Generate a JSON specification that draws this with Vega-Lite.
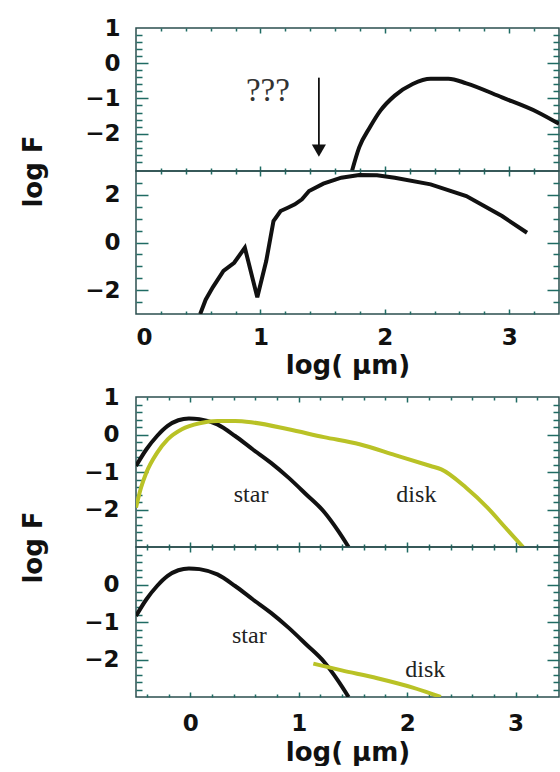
{
  "$schema": "https://vega.github.io/schema/vega-lite/v6.json",
  "padding": {"left": 19, "top": 16, "right": 0, "bottom": 0},
  "config": {
    "view": {"stroke": "#2b4f4f", "strokeWidth": 1.5},
    "axis": {"domain": false, "grid": false, "labelFont": "DejaVu Sans", "labelFontWeight": "bold", "labelFontSize": 23, "labelColor": "#111", "titleFont": "DejaVu Sans", "titleFontWeight": "bold", "titleFontSize": 26, "titleColor": "#111", "tickColor": "#1f6b63", "tickWidth": 1.5}
  },
  "datasets": {
    "p1": [{"x":1.736,"y":-3.06},{"x":1.794,"y":-2.39},{"x":1.88,"y":-1.82},{"x":1.966,"y":-1.34},{"x":2.08,"y":-0.92},{"x":2.224,"y":-0.59},{"x":2.368,"y":-0.44},{"x":2.511,"y":-0.44},{"x":2.655,"y":-0.57},{"x":2.942,"y":-0.97},{"x":3.229,"y":-1.39},{"x":3.4,"y":-1.72}],
    "p2": [{"x":0.516,"y":-3.0},{"x":0.56,"y":-2.4},{"x":0.617,"y":-1.88},{"x":0.703,"y":-1.19},{"x":0.789,"y":-0.85},{"x":0.875,"y":-0.22},{"x":0.975,"y":-2.3},{"x":1.047,"y":-0.77},{"x":1.105,"y":0.9},{"x":1.162,"y":1.32},{"x":1.22,"y":1.46},{"x":1.277,"y":1.6},{"x":1.334,"y":1.81},{"x":1.391,"y":2.16},{"x":1.506,"y":2.47},{"x":1.65,"y":2.72},{"x":1.794,"y":2.83},{"x":1.937,"y":2.82},{"x":2.08,"y":2.72},{"x":2.368,"y":2.44},{"x":2.655,"y":1.95},{"x":2.942,"y":1.11},{"x":3.143,"y":0.41}],
    "star": [{"x":-0.5,"y":-0.84},{"x":-0.405,"y":-0.4},{"x":-0.306,"y":-0.04},{"x":-0.208,"y":0.23},{"x":-0.11,"y":0.38},{"x":-0.012,"y":0.43},{"x":0.086,"y":0.41},{"x":0.25,"y":0.27},{"x":0.414,"y":-0.04},{"x":0.578,"y":-0.4},{"x":0.742,"y":-0.75},{"x":0.906,"y":-1.15},{"x":1.07,"y":-1.6},{"x":1.233,"y":-2.06},{"x":1.364,"y":-2.57},{"x":1.46,"y":-3.0}],
    "disk1": [{"x":-0.5,"y":-1.95},{"x":-0.454,"y":-1.42},{"x":-0.405,"y":-1.02},{"x":-0.306,"y":-0.49},{"x":-0.208,"y":-0.13},{"x":-0.077,"y":0.14},{"x":0.086,"y":0.3},{"x":0.25,"y":0.36},{"x":0.414,"y":0.36},{"x":0.578,"y":0.32},{"x":0.906,"y":0.14},{"x":1.233,"y":-0.07},{"x":1.561,"y":-0.26},{"x":1.889,"y":-0.55},{"x":2.216,"y":-0.84},{"x":2.315,"y":-0.93},{"x":2.544,"y":-1.42},{"x":2.74,"y":-1.95},{"x":2.905,"y":-2.48},{"x":3.068,"y":-3.0}],
    "disk2": [{"x":1.135,"y":-2.11},{"x":1.397,"y":-2.29},{"x":1.725,"y":-2.5},{"x":2.052,"y":-2.75},{"x":2.31,"y":-3.0}],
    "lab3": [{"x":0.561,"y":-1.6,"t":"star"},{"x":2.085,"y":-1.6,"t":"disk"}],
    "lab4": [{"x":0.545,"y":-1.37,"t":"star"},{"x":2.167,"y":-2.29,"t":"disk"}],
    "arrow": [{"x":1.47,"y":-0.41,"y2":-2.4}],
    "head": [{"x":1.47,"y":-2.48}],
    "q": [{"x":1.06,"y":-0.78,"t":"???"}],
    "c": [{"x":1,"y":0}]
  },
  "spacing": 6,
  "vconcat": [
    {
      "spacing": 0,
      "bounds": "flush",
      "vconcat": [
        {
          "width": 423, "height": 143,
          "resolve": {"axis": {"x": "independent", "y": "independent"}},
          "layer": [
            {"data": {"name": "p1"}, "mark": {"type": "line", "color": "#111", "strokeWidth": 4, "interpolate": "monotone", "clip": true},
             "encoding": {"x": {"field": "x", "type": "quantitative", "scale": {"domain": [0, 3.4], "nice": false, "zero": false}, "axis": null},
                          "y": {"field": "y", "type": "quantitative", "scale": {"domain": [-3.06, 1], "nice": false, "zero": false}, "axis": {"orient": "left", "values": [-2, -1, 0, 1], "ticks": false, "labelPadding": 16, "title": "log  F", "titleX": -103, "titleY": 143, "titleAngle": 270, "titleAlign": "center", "titleBaseline": "middle"}}}},
            {"data": {"name": "arrow"}, "mark": {"type": "rule", "color": "#111", "strokeWidth": 1.8},
             "encoding": {"x": {"field": "x", "type": "quantitative", "scale": {"domain": [0, 3.4], "nice": false, "zero": false}, "axis": null},
                          "y": {"field": "y", "type": "quantitative", "scale": {"domain": [-3.06, 1], "nice": false, "zero": false}, "axis": null}, "y2": {"field": "y2"}}},
            {"data": {"name": "head"}, "mark": {"type": "point", "shape": "triangle-down", "filled": true, "size": 200, "color": "#111", "opacity": 1},
             "encoding": {"x": {"field": "x", "type": "quantitative", "scale": {"domain": [0, 3.4], "nice": false, "zero": false}, "axis": null},
                          "y": {"field": "y", "type": "quantitative", "scale": {"domain": [-3.06, 1], "nice": false, "zero": false}, "axis": null}}},
            {"data": {"name": "q"}, "mark": {"type": "text", "font": "Liberation Serif", "fontSize": 33, "color": "#333", "align": "center", "baseline": "middle"},
             "encoding": {"x": {"field": "x", "type": "quantitative", "scale": {"domain": [0, 3.4], "nice": false, "zero": false}, "axis": null},
                          "y": {"field": "y", "type": "quantitative", "scale": {"domain": [-3.06, 1], "nice": false, "zero": false}, "axis": null}, "text": {"field": "t"}}},
            {"data": {"name": "c"}, "mark": {"type": "point", "opacity": 0},
             "encoding": {"x": {"field": "x", "type": "quantitative", "scale": {"domain": [0, 3.4], "nice": false, "zero": false}, "axis": {"orient": "bottom", "values": [1, 2, 3], "tickSize": 5, "offset": -5, "labels": false, "title": null}},
                          "y": {"field": "y", "type": "quantitative", "scale": {"domain": [-3.06, 1], "nice": false, "zero": false}, "axis": {"orient": "left", "values": [-2, -1, 0], "tickSize": 12, "offset": -12, "labels": false, "title": null}}}},
            {"data": {"name": "c"}, "mark": {"type": "point", "opacity": 0},
             "encoding": {"x": {"field": "x", "type": "quantitative", "scale": {"domain": [0, 3.4], "nice": false, "zero": false}, "axis": {"orient": "bottom", "values": [0.2,0.4,0.6,0.8,1.2,1.4,1.6,1.8,2.2,2.4,2.6,2.8,3.2], "tickSize": 3, "offset": -3, "labels": false, "title": null}},
                          "y": {"field": "y", "type": "quantitative", "scale": {"domain": [-3.06, 1], "nice": false, "zero": false}, "axis": {"orient": "left", "values": [-2.8,-2.6,-2.4,-2.2,-1.8,-1.6,-1.4,-1.2,-0.8,-0.6,-0.4,-0.2,0.2,0.4,0.6,0.8], "tickSize": 6, "offset": -6, "labels": false, "title": null}}}},
            {"data": {"name": "c"}, "mark": {"type": "point", "opacity": 0},
             "encoding": {"x": {"field": "x", "type": "quantitative", "scale": {"domain": [0, 3.4], "nice": false, "zero": false}, "axis": {"orient": "top", "values": [1, 2, 3], "tickSize": 5, "offset": -5, "labels": false, "title": null}},
                          "y": {"field": "y", "type": "quantitative", "scale": {"domain": [-3.06, 1], "nice": false, "zero": false}, "axis": {"orient": "right", "values": [-2, -1, 0], "tickSize": 12, "offset": -12, "labels": false, "title": null}}}},
            {"data": {"name": "c"}, "mark": {"type": "point", "opacity": 0},
             "encoding": {"x": {"field": "x", "type": "quantitative", "scale": {"domain": [0, 3.4], "nice": false, "zero": false}, "axis": {"orient": "top", "values": [0.2,0.4,0.6,0.8,1.2,1.4,1.6,1.8,2.2,2.4,2.6,2.8,3.2], "tickSize": 3, "offset": -3, "labels": false, "title": null}},
                          "y": {"field": "y", "type": "quantitative", "scale": {"domain": [-3.06, 1], "nice": false, "zero": false}, "axis": {"orient": "right", "values": [-2.8,-2.6,-2.4,-2.2,-1.8,-1.6,-1.4,-1.2,-0.8,-0.6,-0.4,-0.2,0.2,0.4,0.6,0.8], "tickSize": 6, "offset": -6, "labels": false, "title": null}}}}
          ]
        },
        {
          "width": 423, "height": 143,
          "resolve": {"axis": {"x": "independent", "y": "independent"}},
          "layer": [
            {"data": {"name": "p2"}, "mark": {"type": "line", "color": "#111", "strokeWidth": 4, "clip": true},
             "encoding": {"x": {"field": "x", "type": "quantitative", "scale": {"domain": [0, 3.4], "nice": false, "zero": false}, "axis": {"orient": "bottom", "values": [0, 1, 2, 3], "ticks": false, "labelPadding": 12, "title": "log( μm)", "titlePadding": 3}},
                          "y": {"field": "y", "type": "quantitative", "scale": {"domain": [-3, 3], "nice": false, "zero": false}, "axis": {"orient": "left", "values": [-2, 0, 2], "ticks": false, "labelPadding": 16, "title": null}}}},
            {"data": {"name": "c"}, "mark": {"type": "point", "opacity": 0},
             "encoding": {"x": {"field": "x", "type": "quantitative", "scale": {"domain": [0, 3.4], "nice": false, "zero": false}, "axis": {"orient": "bottom", "values": [1, 2, 3], "tickSize": 5, "offset": -5, "labels": false, "title": null}},
                          "y": {"field": "y", "type": "quantitative", "scale": {"domain": [-3, 3], "nice": false, "zero": false}, "axis": {"orient": "left", "values": [-2, 0, 2], "tickSize": 12, "offset": -12, "labels": false, "title": null}}}},
            {"data": {"name": "c"}, "mark": {"type": "point", "opacity": 0},
             "encoding": {"x": {"field": "x", "type": "quantitative", "scale": {"domain": [0, 3.4], "nice": false, "zero": false}, "axis": {"orient": "bottom", "values": [0.2,0.4,0.6,0.8,1.2,1.4,1.6,1.8,2.2,2.4,2.6,2.8,3.2], "tickSize": 3, "offset": -3, "labels": false, "title": null}},
                          "y": {"field": "y", "type": "quantitative", "scale": {"domain": [-3, 3], "nice": false, "zero": false}, "axis": {"orient": "left", "values": [-2.5,-1.5,-1,-0.5,0.5,1,1.5,2.5], "tickSize": 6, "offset": -6, "labels": false, "title": null}}}},
            {"data": {"name": "c"}, "mark": {"type": "point", "opacity": 0},
             "encoding": {"x": {"field": "x", "type": "quantitative", "scale": {"domain": [0, 3.4], "nice": false, "zero": false}, "axis": {"orient": "top", "values": [1, 2, 3], "tickSize": 5, "offset": -5, "labels": false, "title": null}},
                          "y": {"field": "y", "type": "quantitative", "scale": {"domain": [-3, 3], "nice": false, "zero": false}, "axis": {"orient": "right", "values": [-2, 0, 2], "tickSize": 12, "offset": -12, "labels": false, "title": null}}}},
            {"data": {"name": "c"}, "mark": {"type": "point", "opacity": 0},
             "encoding": {"x": {"field": "x", "type": "quantitative", "scale": {"domain": [0, 3.4], "nice": false, "zero": false}, "axis": {"orient": "top", "values": [0.2,0.4,0.6,0.8,1.2,1.4,1.6,1.8,2.2,2.4,2.6,2.8,3.2], "tickSize": 3, "offset": -3, "labels": false, "title": null}},
                          "y": {"field": "y", "type": "quantitative", "scale": {"domain": [-3, 3], "nice": false, "zero": false}, "axis": {"orient": "right", "values": [-2.5,-1.5,-1,-0.5,0.5,1,1.5,2.5], "tickSize": 6, "offset": -6, "labels": false, "title": null}}}}
          ]
        }
      ]
    },
    {
      "spacing": 0,
      "bounds": "flush",
      "vconcat": [
        {
          "width": 423, "height": 150,
          "resolve": {"axis": {"x": "independent", "y": "independent"}},
          "layer": [
            {"data": {"name": "star"}, "mark": {"type": "line", "color": "#111", "strokeWidth": 4, "interpolate": "monotone", "clip": true},
             "encoding": {"x": {"field": "x", "type": "quantitative", "scale": {"domain": [-0.5, 3.4], "nice": false, "zero": false}, "axis": null},
                          "y": {"field": "y", "type": "quantitative", "scale": {"domain": [-3, 1], "nice": false, "zero": false}, "axis": {"orient": "left", "values": [-2, -1, 0, 1], "ticks": false, "labelPadding": 17, "title": "log  F", "titleX": -103, "titleY": 150, "titleAngle": 270, "titleAlign": "center", "titleBaseline": "middle"}}}},
            {"data": {"name": "disk1"}, "mark": {"type": "line", "color": "#b9c226", "strokeWidth": 4, "interpolate": "monotone", "clip": true},
             "encoding": {"x": {"field": "x", "type": "quantitative", "scale": {"domain": [-0.5, 3.4], "nice": false, "zero": false}, "axis": null},
                          "y": {"field": "y", "type": "quantitative", "scale": {"domain": [-3, 1], "nice": false, "zero": false}, "axis": null}}},
            {"data": {"name": "lab3"}, "mark": {"type": "text", "font": "Liberation Serif", "fontSize": 24, "color": "#222", "align": "center", "baseline": "middle"},
             "encoding": {"x": {"field": "x", "type": "quantitative", "scale": {"domain": [-0.5, 3.4], "nice": false, "zero": false}, "axis": null},
                          "y": {"field": "y", "type": "quantitative", "scale": {"domain": [-3, 1], "nice": false, "zero": false}, "axis": null}, "text": {"field": "t"}}},
            {"data": {"name": "c"}, "mark": {"type": "point", "opacity": 0},
             "encoding": {"x": {"field": "x", "type": "quantitative", "scale": {"domain": [-0.5, 3.4], "nice": false, "zero": false}, "axis": {"orient": "bottom", "values": [0, 1, 2, 3], "tickSize": 5, "offset": -5, "labels": false, "title": null}},
                          "y": {"field": "y", "type": "quantitative", "scale": {"domain": [-3, 1], "nice": false, "zero": false}, "axis": {"orient": "left", "values": [-2, -1, 0], "tickSize": 12, "offset": -12, "labels": false, "title": null}}}},
            {"data": {"name": "c"}, "mark": {"type": "point", "opacity": 0},
             "encoding": {"x": {"field": "x", "type": "quantitative", "scale": {"domain": [-0.5, 3.4], "nice": false, "zero": false}, "axis": {"orient": "bottom", "values": [-0.4,-0.2,0.2,0.4,0.6,0.8,1.2,1.4,1.6,1.8,2.2,2.4,2.6,2.8,3.2], "tickSize": 3, "offset": -3, "labels": false, "title": null}},
                          "y": {"field": "y", "type": "quantitative", "scale": {"domain": [-3, 1], "nice": false, "zero": false}, "axis": {"orient": "left", "values": [-2.8,-2.6,-2.4,-2.2,-1.8,-1.6,-1.4,-1.2,-0.8,-0.6,-0.4,-0.2,0.2,0.4,0.6,0.8], "tickSize": 6, "offset": -6, "labels": false, "title": null}}}},
            {"data": {"name": "c"}, "mark": {"type": "point", "opacity": 0},
             "encoding": {"x": {"field": "x", "type": "quantitative", "scale": {"domain": [-0.5, 3.4], "nice": false, "zero": false}, "axis": {"orient": "top", "values": [0, 1, 2, 3], "tickSize": 5, "offset": -5, "labels": false, "title": null}},
                          "y": {"field": "y", "type": "quantitative", "scale": {"domain": [-3, 1], "nice": false, "zero": false}, "axis": {"orient": "right", "values": [-2, -1, 0], "tickSize": 12, "offset": -12, "labels": false, "title": null}}}},
            {"data": {"name": "c"}, "mark": {"type": "point", "opacity": 0},
             "encoding": {"x": {"field": "x", "type": "quantitative", "scale": {"domain": [-0.5, 3.4], "nice": false, "zero": false}, "axis": {"orient": "top", "values": [-0.4,-0.2,0.2,0.4,0.6,0.8,1.2,1.4,1.6,1.8,2.2,2.4,2.6,2.8,3.2], "tickSize": 3, "offset": -3, "labels": false, "title": null}},
                          "y": {"field": "y", "type": "quantitative", "scale": {"domain": [-3, 1], "nice": false, "zero": false}, "axis": {"orient": "right", "values": [-2.8,-2.6,-2.4,-2.2,-1.8,-1.6,-1.4,-1.2,-0.8,-0.6,-0.4,-0.2,0.2,0.4,0.6,0.8], "tickSize": 6, "offset": -6, "labels": false, "title": null}}}}
          ]
        },
        {
          "width": 423, "height": 150,
          "resolve": {"axis": {"x": "independent", "y": "independent"}},
          "layer": [
            {"data": {"name": "star"}, "mark": {"type": "line", "color": "#111", "strokeWidth": 4, "interpolate": "monotone", "clip": true},
             "encoding": {"x": {"field": "x", "type": "quantitative", "scale": {"domain": [-0.5, 3.4], "nice": false, "zero": false}, "axis": {"orient": "bottom", "values": [0, 1, 2, 3], "ticks": false, "labelPadding": 15, "title": "log( μm)", "titlePadding": 4}},
                          "y": {"field": "y", "type": "quantitative", "scale": {"domain": [-3, 1], "nice": false, "zero": false}, "axis": {"orient": "left", "values": [-2, -1, 0], "ticks": false, "labelPadding": 17, "title": null}}}},
            {"data": {"name": "disk2"}, "mark": {"type": "line", "color": "#b9c226", "strokeWidth": 4, "interpolate": "monotone", "clip": true},
             "encoding": {"x": {"field": "x", "type": "quantitative", "scale": {"domain": [-0.5, 3.4], "nice": false, "zero": false}, "axis": null},
                          "y": {"field": "y", "type": "quantitative", "scale": {"domain": [-3, 1], "nice": false, "zero": false}, "axis": null}}},
            {"data": {"name": "lab4"}, "mark": {"type": "text", "font": "Liberation Serif", "fontSize": 24, "color": "#222", "align": "center", "baseline": "middle"},
             "encoding": {"x": {"field": "x", "type": "quantitative", "scale": {"domain": [-0.5, 3.4], "nice": false, "zero": false}, "axis": null},
                          "y": {"field": "y", "type": "quantitative", "scale": {"domain": [-3, 1], "nice": false, "zero": false}, "axis": null}, "text": {"field": "t"}}},
            {"data": {"name": "c"}, "mark": {"type": "point", "opacity": 0},
             "encoding": {"x": {"field": "x", "type": "quantitative", "scale": {"domain": [-0.5, 3.4], "nice": false, "zero": false}, "axis": {"orient": "bottom", "values": [0, 1, 2, 3], "tickSize": 5, "offset": -5, "labels": false, "title": null}},
                          "y": {"field": "y", "type": "quantitative", "scale": {"domain": [-3, 1], "nice": false, "zero": false}, "axis": {"orient": "left", "values": [-2, -1, 0], "tickSize": 12, "offset": -12, "labels": false, "title": null}}}},
            {"data": {"name": "c"}, "mark": {"type": "point", "opacity": 0},
             "encoding": {"x": {"field": "x", "type": "quantitative", "scale": {"domain": [-0.5, 3.4], "nice": false, "zero": false}, "axis": {"orient": "bottom", "values": [-0.4,-0.2,0.2,0.4,0.6,0.8,1.2,1.4,1.6,1.8,2.2,2.4,2.6,2.8,3.2], "tickSize": 3, "offset": -3, "labels": false, "title": null}},
                          "y": {"field": "y", "type": "quantitative", "scale": {"domain": [-3, 1], "nice": false, "zero": false}, "axis": {"orient": "left", "values": [-2.8,-2.6,-2.4,-2.2,-1.8,-1.6,-1.4,-1.2,-0.8,-0.6,-0.4,-0.2,0.2,0.4,0.6,0.8], "tickSize": 6, "offset": -6, "labels": false, "title": null}}}},
            {"data": {"name": "c"}, "mark": {"type": "point", "opacity": 0},
             "encoding": {"x": {"field": "x", "type": "quantitative", "scale": {"domain": [-0.5, 3.4], "nice": false, "zero": false}, "axis": {"orient": "top", "values": [0, 1, 2, 3], "tickSize": 5, "offset": -5, "labels": false, "title": null}},
                          "y": {"field": "y", "type": "quantitative", "scale": {"domain": [-3, 1], "nice": false, "zero": false}, "axis": {"orient": "right", "values": [-2, -1, 0], "tickSize": 12, "offset": -12, "labels": false, "title": null}}}},
            {"data": {"name": "c"}, "mark": {"type": "point", "opacity": 0},
             "encoding": {"x": {"field": "x", "type": "quantitative", "scale": {"domain": [-0.5, 3.4], "nice": false, "zero": false}, "axis": {"orient": "top", "values": [-0.4,-0.2,0.2,0.4,0.6,0.8,1.2,1.4,1.6,1.8,2.2,2.4,2.6,2.8,3.2], "tickSize": 3, "offset": -3, "labels": false, "title": null}},
                          "y": {"field": "y", "type": "quantitative", "scale": {"domain": [-3, 1], "nice": false, "zero": false}, "axis": {"orient": "right", "values": [-2.8,-2.6,-2.4,-2.2,-1.8,-1.6,-1.4,-1.2,-0.8,-0.6,-0.4,-0.2,0.2,0.4,0.6,0.8], "tickSize": 6, "offset": -6, "labels": false, "title": null}}}}
          ]
        }
      ]
    }
  ]
}
